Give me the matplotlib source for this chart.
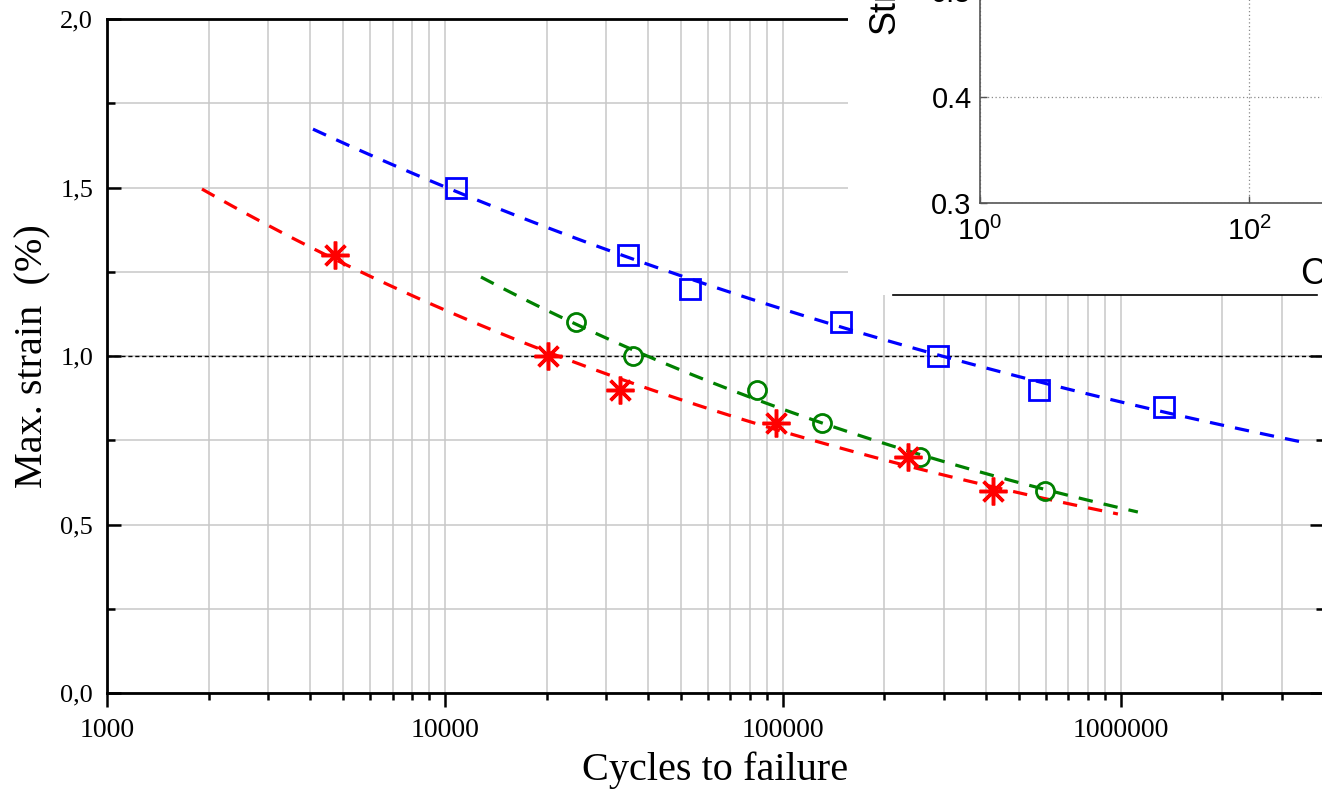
import numpy as np
import matplotlib
matplotlib.use("Agg")
import matplotlib.pyplot as plt
from matplotlib.patches import Rectangle
from matplotlib.lines import Line2D
from matplotlib.ticker import FixedLocator, NullLocator

plt.rcParams['font.family'] = ['Liberation Serif', 'DejaVu Serif']
plt.rcParams['mathtext.default'] = 'regular'

# measured points (cycles to failure, max strain %)
blue_n = [10800, 34800, 53100, 148600, 289000, 575000, 1340000]
blue_eps = [1.5, 1.3, 1.2, 1.1, 1.0, 0.9, 0.85]
red_n = [4730, 20200, 33000, 95300, 234500, 418000]
red_eps = [1.3, 1.0, 0.9, 0.8, 0.7, 0.6]
green_n = [24400, 36000, 83700, 130300, 254000, 596000]
green_eps = [1.1, 1.0, 0.9, 0.8, 0.7, 0.6]

# power-law fits eps = A * N^b
blue_fit = (4.54, -0.1201, 4070, 3.56e6)
red_fit = (5.233, -0.1658, 1910, 9.82e5)
green_fit = (7.16, -0.1859, 12790, 1.125e6)

ytick_vals = [0.0, 0.5, 1.0, 1.5, 2.0]
ytick_labels = ["0,0", "0,5", "1,0", "1,5", "2,0"]
xtick_vals = [1000, 10000, 100000, 1000000]
xtick_labels = ["1000", "10000", "100000", "1000000"]

W, H = 1322, 793
fig = plt.figure(figsize=(W / 100, H / 100), dpi=100)
ax = fig.add_axes([107 / W, 100 / H, 1217 / W, 674 / H])
ax.set_xscale('log')
ax.set_xlim(1000, 4e6)
ax.set_ylim(0, 2.0)

grid_c = '#c8c8c8'
ax.grid(True, which='both', axis='both', color=grid_c, lw=1.1, zorder=0)
ax.set_axisbelow(True)
ax.axhline(1.0, color='black', lw=1.0, ls=(0, (3, 2)), zorder=2)


def fit_curve(fit):
    a, b, n0, n1 = fit
    n = np.logspace(np.log10(n0), np.log10(n1), 60)
    return n, a * n ** b


for fit, col in [(blue_fit, 'blue'), (red_fit, 'red'), (green_fit, 'green')]:
    n, e = fit_curve(fit)
    ax.plot(n, e, color=col, lw=2.3, ls=(0, (4.5, 3.5)), zorder=3)

ax.plot(blue_n, blue_eps, ls='none', marker='s', ms=14, mfc='none', mec='blue', mew=2.0, zorder=4)
ax.plot(green_n, green_eps, ls='none', marker='o', ms=13, mfc='none', mec='green', mew=2.0, zorder=4)
ax.plot(red_n, red_eps, ls='none', marker=(8, 2, 0), ms=20, mec='red', mew=2.5, zorder=5)

ax.yaxis.set_major_locator(FixedLocator(ytick_vals))
ax.set_yticklabels(ytick_labels)
ax.yaxis.set_minor_locator(FixedLocator([0.25, 0.75, 1.25, 1.75]))
ax.set_xticks(xtick_vals)
ax.set_xticklabels(xtick_labels)

ax.tick_params(axis='y', which='major', direction='in', length=10, width=1.8,
               labelsize=19, left=True, right=True, pad=10)
ax.tick_params(axis='y', which='minor', direction='in', length=6, width=1.8,
               left=True, right=True)
ax.tick_params(axis='x', which='major', direction='out', length=10, width=1.8,
               labelsize=20, pad=8)
ax.tick_params(axis='x', which='minor', direction='out', length=5, width=1.8)
for s in ax.spines.values():
    s.set_linewidth(2.0)

ax.set_xlabel("Cycles to failure", fontsize=29, labelpad=6)
ax.set_ylabel("Max. strain  (%)", fontsize=29, labelpad=6)

# pasted figure piece in the top right corner
fig.add_artist(Rectangle((848 / W, 1 - 295 / H), 1 - 848 / W, 295 / H,
                         transform=fig.transFigure, facecolor='white',
                         edgecolor='none', zorder=1))
fig.add_artist(Line2D([893 / W, 1317 / W], [1 - 295 / H, 1 - 295 / H],
                      transform=fig.transFigure, color='black', lw=1.2, zorder=1.5))

sans = ['Liberation Sans', 'DejaVu Sans']
inset = fig.add_axes([980 / W, 1 - 203 / H, 538 / W, 318 / H])
inset.set_zorder(2)
inset.set_xscale('log')
inset.set_xlim(1, 1e4)
inset.set_ylim(0.3, 0.6)
inset.xaxis.set_major_locator(FixedLocator([1, 100, 10000]))
inset.xaxis.set_minor_locator(NullLocator())
inset.set_xticklabels(['$10^{0}$', '$10^{2}$', '$10^{4}$'])
inset.yaxis.set_major_locator(FixedLocator([0.3, 0.4, 0.5, 0.6]))
inset.set_yticklabels(['0.3', '0.4', '0.5', '0.6'])
inset.grid(True, color='#8a8a8a', lw=0.9, ls=(0, (1, 2)))
for lab in inset.get_xticklabels() + inset.get_yticklabels():
    lab.set_family(sans)
    lab.set_fontsize(21)
inset.tick_params(direction='in', length=5, width=1, color='#555555')
inset.tick_params(axis='x', pad=10)
inset.tick_params(axis='y', pad=6)
for s in inset.spines.values():
    s.set_color('#555555')
    s.set_linewidth(1.2)

fig.text(885 / W, 1 - 34 / H, "Strain", rotation=90, ha='center', va='bottom',
         fontsize=26, family=sans)
fig.text(1300 / W, 1 - 284 / H, "Cycles", ha='left', va='baseline',
         fontsize=26, family=sans)

fig.savefig("out.png", dpi=100)
